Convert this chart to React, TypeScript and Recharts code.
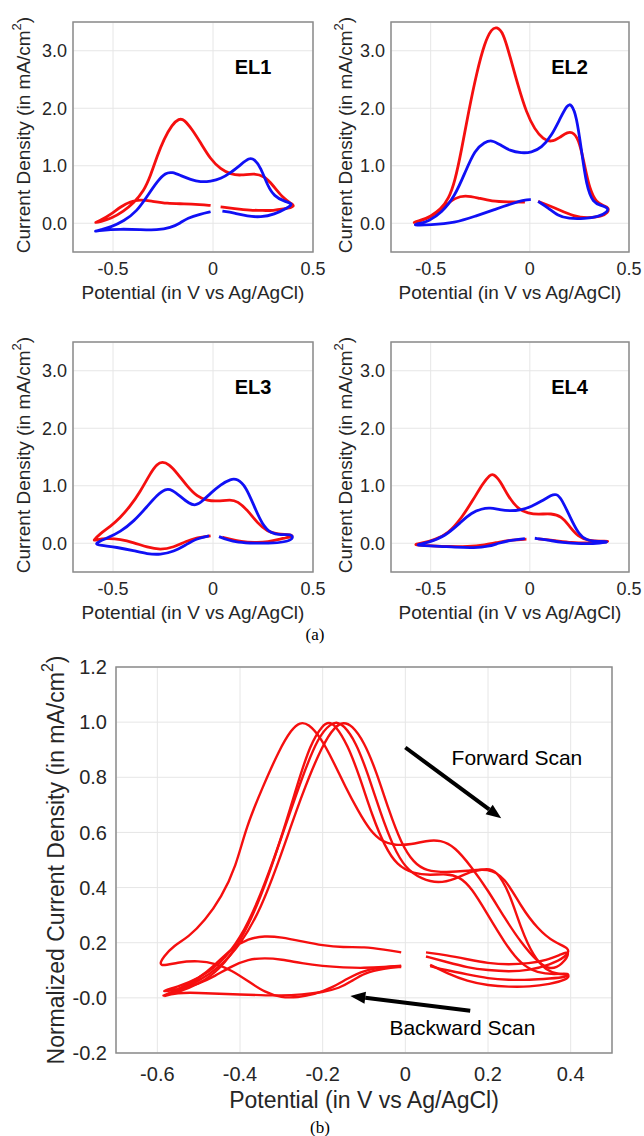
import React from 'react';
import {
  LineChart,
  Line,
  XAxis,
  YAxis,
  CartesianGrid,
  ReferenceArea,
  ReferenceDot,
  ReferenceLine,
} from 'recharts';

type Pt = { x: number; y: number };
const pts = (a: number[][]): Pt[] => a.map(([x, y]) => ({ x, y }));

// ticks
const smallXTicks = [-0.5, 0, 0.5];
const smallYTicks = [0, 1, 2, 3];
const bigXTicks = [-0.6, -0.4, -0.2, 0, 0.2, 0.4];
const bigYTicks = [-0.2, 0, 0.2, 0.4, 0.6, 0.8, 1.0, 1.2];

// every loop: lower branch from the gap back to -0.6 V, upper branch out to 0.4 V,
// then the lower branch back to the other side of the gap
const el1Red = pts([
  [-0.012, 0.31], [-0.062, 0.325], [-0.145, 0.34], [-0.229, 0.34], [-0.313, 0.39], [-0.363, 0.41],
  [-0.413, 0.38], [-0.463, 0.285], [-0.513, 0.15], [-0.564, 0.047], [-0.598, 0.0],
  [-0.56, 0.03], [-0.513, 0.076], [-0.446, 0.21], [-0.396, 0.355], [-0.346, 0.56], [-0.313, 0.82],
  [-0.279, 1.17], [-0.246, 1.46], [-0.204, 1.72], [-0.17, 1.82], [-0.145, 1.81], [-0.104, 1.63],
  [-0.062, 1.4], [-0.012, 1.11], [0.038, 0.94], [0.089, 0.85], [0.139, 0.83], [0.206, 0.87],
  [0.256, 0.82], [0.298, 0.67], [0.348, 0.44], [0.398, 0.33], [0.405, 0.3], [0.39, 0.27],
  [0.356, 0.25], [0.3, 0.22], [0.25, 0.222], [0.189, 0.225], [0.105, 0.256], [0.038, 0.285],
]);
const el1Blue = pts([
  [-0.012, 0.2], [-0.062, 0.16], [-0.129, 0.09], [-0.162, 0.006], [-0.212, -0.08], [-0.279, -0.12],
  [-0.363, -0.11], [-0.463, -0.1], [-0.564, -0.12], [-0.6, -0.15],
  [-0.56, -0.11], [-0.513, -0.07], [-0.446, 0.035], [-0.38, 0.21], [-0.329, 0.47], [-0.279, 0.73],
  [-0.237, 0.88], [-0.204, 0.89], [-0.162, 0.83], [-0.112, 0.76], [-0.062, 0.715], [-0.012, 0.73],
  [0.038, 0.77], [0.089, 0.88], [0.139, 1.02], [0.181, 1.14], [0.206, 1.12], [0.239, 0.97],
  [0.273, 0.65], [0.306, 0.47], [0.356, 0.38], [0.403, 0.34], [0.373, 0.27], [0.306, 0.15],
  [0.239, 0.105], [0.172, 0.12], [0.105, 0.18], [0.047, 0.21],
]);
const el2Red = pts([
  [-0.025, 0.37], [-0.109, 0.37], [-0.193, 0.38], [-0.26, 0.44], [-0.327, 0.49], [-0.378, 0.44],
  [-0.42, 0.32], [-0.46, 0.2], [-0.5, 0.11], [-0.55, 0.04], [-0.6, 0.0],
  [-0.55, 0.05], [-0.5, 0.12], [-0.45, 0.24], [-0.41, 0.42], [-0.378, 0.72], [-0.344, 1.28],
  [-0.31, 1.92], [-0.268, 2.62], [-0.227, 3.15], [-0.193, 3.38], [-0.168, 3.42], [-0.134, 3.32],
  [-0.101, 2.91], [-0.059, 2.39], [-0.017, 1.92], [0.025, 1.63], [0.067, 1.46], [0.109, 1.41],
  [0.151, 1.49], [0.19, 1.59], [0.223, 1.58], [0.252, 1.4], [0.277, 0.99], [0.302, 0.59],
  [0.336, 0.35], [0.378, 0.3], [0.398, 0.27], [0.394, 0.18], [0.361, 0.12], [0.294, 0.09],
  [0.227, 0.11], [0.126, 0.27], [0.042, 0.38],
]);
const el2Blue = pts([
  [0.005, 0.41], [-0.025, 0.41], [-0.092, 0.34], [-0.176, 0.24], [-0.277, 0.12], [-0.378, 0.006],
  [-0.5, -0.03], [-0.6, -0.035],
  [-0.55, 0.0], [-0.512, 0.035], [-0.445, 0.18], [-0.378, 0.47], [-0.327, 0.88], [-0.277, 1.28],
  [-0.227, 1.41], [-0.193, 1.45], [-0.151, 1.37], [-0.101, 1.26], [-0.042, 1.22], [0.008, 1.23],
  [0.059, 1.31], [0.109, 1.52], [0.151, 1.81], [0.19, 2.07], [0.21, 2.07], [0.235, 1.87],
  [0.26, 1.28], [0.285, 0.65], [0.319, 0.35], [0.361, 0.31], [0.394, 0.27], [0.394, 0.2],
  [0.344, 0.11], [0.277, 0.08], [0.193, 0.08], [0.143, 0.13], [0.092, 0.27], [0.042, 0.38],
]);
const el3Red = pts([
  [-0.012, 0.13], [-0.079, 0.1], [-0.137, 0.03], [-0.196, -0.07], [-0.263, -0.116], [-0.329, -0.07],
  [-0.396, 0.012], [-0.463, 0.07], [-0.53, 0.087], [-0.589, 0.058], [-0.6, 0.04],
  [-0.564, 0.17], [-0.514, 0.29], [-0.465, 0.44], [-0.415, 0.64], [-0.363, 0.9], [-0.313, 1.22],
  [-0.279, 1.38], [-0.254, 1.42], [-0.221, 1.38], [-0.179, 1.22], [-0.129, 0.99], [-0.079, 0.81],
  [-0.028, 0.74], [0.022, 0.73], [0.089, 0.76], [0.122, 0.73], [0.172, 0.58], [0.222, 0.35],
  [0.273, 0.2], [0.323, 0.16], [0.39, 0.145], [0.403, 0.12], [0.356, 0.09], [0.273, 0.017],
  [0.206, 0.01], [0.139, 0.03], [0.089, 0.07], [0.047, 0.105],
]);
const el3Blue = pts([
  [-0.02, 0.128], [-0.079, 0.087], [-0.137, -0.03], [-0.196, -0.145], [-0.263, -0.2], [-0.329, -0.186],
  [-0.396, -0.128], [-0.48, -0.07], [-0.564, -0.035], [-0.597, -0.01],
  [-0.53, 0.087], [-0.463, 0.2], [-0.396, 0.38], [-0.329, 0.64], [-0.279, 0.84], [-0.237, 0.95],
  [-0.204, 0.93], [-0.162, 0.81], [-0.12, 0.69], [-0.087, 0.65], [-0.054, 0.73], [-0.012, 0.87],
  [0.038, 1.02], [0.089, 1.12], [0.122, 1.12], [0.164, 0.99], [0.206, 0.64], [0.247, 0.32],
  [0.289, 0.17], [0.339, 0.145], [0.39, 0.16], [0.403, 0.09], [0.373, 0.03], [0.306, 0.0],
  [0.206, 0.0], [0.122, 0.017], [0.072, 0.058], [0.03, 0.116],
]);
const el4Red = pts([
  [-0.017, 0.07], [-0.092, 0.058], [-0.159, 0.017], [-0.227, -0.03], [-0.311, -0.058], [-0.411, -0.058],
  [-0.512, -0.04], [-0.596, -0.03],
  [-0.545, 0.0], [-0.48, 0.058], [-0.411, 0.17], [-0.344, 0.44], [-0.285, 0.76], [-0.235, 1.05],
  [-0.201, 1.19], [-0.185, 1.21], [-0.151, 1.1], [-0.109, 0.81], [-0.059, 0.59], [-0.008, 0.52],
  [0.042, 0.5], [0.109, 0.52], [0.159, 0.47], [0.201, 0.29], [0.243, 0.116], [0.294, 0.047],
  [0.361, 0.035], [0.403, 0.04], [0.378, 0.017], [0.294, 0.0], [0.21, 0.01], [0.126, 0.047],
  [0.042, 0.076],
]);
const el4Blue = pts([
  [-0.025, 0.08], [-0.092, 0.058], [-0.159, 0.0], [-0.21, -0.058], [-0.277, -0.08], [-0.378, -0.07],
  [-0.48, -0.047], [-0.596, -0.04],
  [-0.512, 0.012], [-0.428, 0.116], [-0.344, 0.38], [-0.294, 0.53], [-0.243, 0.6], [-0.201, 0.62],
  [-0.151, 0.58], [-0.101, 0.56], [-0.042, 0.58], [0.008, 0.64], [0.059, 0.73], [0.109, 0.84],
  [0.134, 0.86], [0.159, 0.78], [0.201, 0.47], [0.243, 0.17], [0.285, 0.047], [0.344, 0.03],
  [0.403, 0.03], [0.361, 0.0], [0.26, -0.01], [0.159, 0.01], [0.092, 0.058], [0.025, 0.087],
]);

// normalized forward-scan loops, panel (b)
const normEl1 = pts([
  [-0.01, 0.165], [-0.05, 0.175], [-0.1, 0.185], [-0.15, 0.183], [-0.2, 0.19], [-0.25, 0.205],
  [-0.3, 0.22], [-0.34, 0.225], [-0.38, 0.215], [-0.42, 0.18], [-0.46, 0.12], [-0.5, 0.07],
  [-0.55, 0.03], [-0.6, 0.0],
  [-0.56, 0.02], [-0.5, 0.06], [-0.45, 0.11], [-0.4, 0.19], [-0.35, 0.32], [-0.3, 0.52],
  [-0.25, 0.74], [-0.2, 0.92], [-0.17, 0.985], [-0.15, 1.0], [-0.13, 0.99], [-0.1, 0.93],
  [-0.07, 0.82], [-0.04, 0.68], [-0.01, 0.56], [0.02, 0.49], [0.05, 0.46], [0.1, 0.455],
  [0.15, 0.46], [0.2, 0.47], [0.24, 0.44], [0.28, 0.33], [0.32, 0.25], [0.36, 0.2], [0.4, 0.18],
  [0.39, 0.15], [0.35, 0.12], [0.3, 0.1], [0.25, 0.095], [0.2, 0.1], [0.15, 0.11], [0.1, 0.13],
  [0.05, 0.15],
]);
const normEl2 = pts([
  [-0.01, 0.117], [-0.05, 0.112], [-0.1, 0.108], [-0.15, 0.11], [-0.2, 0.115], [-0.25, 0.125],
  [-0.3, 0.14], [-0.34, 0.145], [-0.38, 0.14], [-0.42, 0.115], [-0.46, 0.08], [-0.5, 0.05],
  [-0.55, 0.03], [-0.6, 0.02],
  [-0.55, 0.04], [-0.5, 0.07], [-0.45, 0.12], [-0.4, 0.21], [-0.35, 0.37], [-0.3, 0.58],
  [-0.25, 0.8], [-0.21, 0.95], [-0.18, 0.995], [-0.165, 1.0], [-0.15, 0.99], [-0.12, 0.93],
  [-0.09, 0.81], [-0.06, 0.67], [-0.03, 0.55], [0.0, 0.47], [0.04, 0.43], [0.08, 0.415],
  [0.12, 0.43], [0.16, 0.46], [0.2, 0.47], [0.22, 0.46], [0.25, 0.39], [0.28, 0.25], [0.31, 0.15],
  [0.34, 0.1], [0.37, 0.085], [0.4, 0.085],
  [0.39, 0.065], [0.35, 0.05], [0.3, 0.04], [0.25, 0.04], [0.2, 0.045], [0.15, 0.06], [0.1, 0.09],
  [0.06, 0.12],
]);
const normEl3 = pts([
  [-0.01, 0.115], [-0.05, 0.112], [-0.1, 0.1], [-0.14, 0.07], [-0.18, 0.035], [-0.22, 0.012],
  [-0.26, 0.002], [-0.3, 0.0], [-0.34, 0.02], [-0.38, 0.06], [-0.42, 0.1], [-0.46, 0.125],
  [-0.5, 0.135], [-0.55, 0.13], [-0.6, 0.11],
  [-0.585, 0.15], [-0.56, 0.19], [-0.525, 0.22], [-0.485, 0.28], [-0.445, 0.365], [-0.41, 0.475],
  [-0.385, 0.62], [-0.345, 0.765], [-0.305, 0.9], [-0.275, 0.975], [-0.255, 1.0], [-0.235, 0.995],
  [-0.205, 0.945], [-0.175, 0.86], [-0.145, 0.765], [-0.115, 0.68], [-0.085, 0.605], [-0.055, 0.565],
  [-0.025, 0.553], [0.015, 0.556], [0.05, 0.57], [0.085, 0.573], [0.12, 0.548], [0.16, 0.475],
  [0.2, 0.39], [0.24, 0.29], [0.28, 0.2], [0.32, 0.13], [0.35, 0.1], [0.38, 0.12], [0.4, 0.17],
  [0.38, 0.16], [0.34, 0.135], [0.3, 0.125], [0.25, 0.12], [0.2, 0.125], [0.15, 0.14], [0.1, 0.155],
  [0.05, 0.165],
]);
const normEl4 = pts([
  [-0.01, 0.112], [-0.05, 0.108], [-0.1, 0.09], [-0.13, 0.06], [-0.16, 0.035], [-0.2, 0.02],
  [-0.25, 0.012], [-0.3, 0.008], [-0.35, 0.01], [-0.4, 0.012], [-0.45, 0.015], [-0.5, 0.018],
  [-0.55, 0.02], [-0.6, 0.0],
  [-0.55, 0.02], [-0.5, 0.05], [-0.45, 0.1], [-0.4, 0.2], [-0.35, 0.36], [-0.3, 0.58],
  [-0.26, 0.78], [-0.23, 0.92], [-0.2, 0.99], [-0.185, 1.0], [-0.17, 0.99], [-0.14, 0.92],
  [-0.11, 0.8], [-0.08, 0.66], [-0.05, 0.55], [-0.02, 0.48], [0.02, 0.45], [0.06, 0.445],
  [0.1, 0.45], [0.13, 0.44], [0.16, 0.4], [0.2, 0.3], [0.24, 0.2], [0.28, 0.12], [0.32, 0.09],
  [0.36, 0.085], [0.4, 0.09],
  [0.39, 0.075], [0.35, 0.07], [0.3, 0.065], [0.25, 0.065], [0.2, 0.07], [0.15, 0.085], [0.1, 0.1],
  [0.06, 0.115],
]);

const FONT = "'Liberation Sans', Arial, sans-serif";
const TXT = '#262626';
const RED = '#f50f0f';
const BLUE = '#1010f5';
const GRID = '#e6e6e6';
const BOX = '#8c8c8c';

const xTitle = 'Potential (in V vs Ag/AgCl)';

function SmallPanel({ left, top, yAxisW, right, tag, red, blue }: any) {
  return (
    <div style={{ position: 'absolute', left, top }}>
      <LineChart width={330} height={305} margin={{ top: 22, right, left: 0, bottom: 0 }}>
        <CartesianGrid stroke={GRID} />
        <XAxis
          type="number"
          dataKey="x"
          domain={[-0.7, 0.5]}
          ticks={smallXTicks}
          allowDataOverflow
          axisLine={false}
          tickLine={false}
          tickSize={0}
          tickMargin={10}
          height={53}
          tick={{ fontSize: 18, fill: TXT, fontFamily: FONT }}
          label={(p: any) => (
            <text
              x={p.viewBox.x + p.viewBox.width / 2}
              y={p.viewBox.y + 40}
              textAnchor="middle"
              dominantBaseline="central"
              fontSize={19}
              fontFamily={FONT}
              fill={TXT}
            >
              {xTitle}
            </text>
          )}
        />
        <YAxis
          type="number"
          domain={[-0.5, 3.5]}
          ticks={smallYTicks}
          allowDataOverflow
          axisLine={false}
          tickLine={false}
          tickSize={0}
          tickMargin={6}
          width={yAxisW}
          tick={{ fontSize: 18, fill: TXT, fontFamily: FONT }}
          tickFormatter={(v: number) => v.toFixed(1)}
          label={(p: any) => {
            const cx = 23;
            const cy = p.viewBox.y + p.viewBox.height / 2 - 2;
            return (
              <text
                transform={`translate(${cx},${cy}) rotate(-90)`}
                textAnchor="middle"
                dominantBaseline="central"
                fontSize={19}
                fontFamily={FONT}
                fill={TXT}
              >
                Current Density (in mA/cm
                <tspan dy={-7} fontSize={13}>2</tspan>
                <tspan dy={7}>)</tspan>
              </text>
            );
          }}
        />
        <ReferenceArea x1={-0.7} x2={0.5} y1={-0.5} y2={3.5} fill="none" stroke={BOX} strokeWidth={1.5} />
        <Line data={red} dataKey="y" type="basis" stroke={RED} strokeWidth={2.8} dot={false} isAnimationActive={false} />
        <Line data={blue} dataKey="y" type="basis" stroke={BLUE} strokeWidth={2.8} dot={false} isAnimationActive={false} />
        <ReferenceDot
          x={0.2}
          y={2.72}
          r={1}
          fill="none"
          stroke="none"
          label={{ value: tag, position: 'center', fontSize: 20, fontWeight: 'bold', fill: '#000', fontFamily: FONT }}
        />
      </LineChart>
    </div>
  );
}

const Arrow = (p: any) => {
  const { x1, y1, x2, y2 } = p;
  const a = Math.atan2(y2 - y1, x2 - x1);
  const L = 15;
  const w = 6;
  const bx = x2 - L * Math.cos(a);
  const by = y2 - L * Math.sin(a);
  const nx = -Math.sin(a) * w;
  const ny = Math.cos(a) * w;
  return (
    <g>
      <line x1={x1} y1={y1} x2={bx} y2={by} stroke="#000" strokeWidth={4} />
      <polygon points={`${x2},${y2} ${bx + nx},${by + ny} ${bx - nx},${by - ny}`} fill="#000" />
    </g>
  );
};

function BigPanel() {
  const bigLines = [normEl1, normEl2, normEl3, normEl4];
  return (
    <div style={{ position: 'absolute', left: 0, top: 640 }}>
      <LineChart width={644} height={490} margin={{ top: 27, right: 32, left: 0, bottom: 0 }}>
        <CartesianGrid stroke={GRID} />
        <XAxis
          type="number"
          dataKey="x"
          domain={[-0.7, 0.5]}
          ticks={bigXTicks}
          allowDataOverflow
          axisLine={false}
          tickLine={false}
          tickSize={0}
          tickMargin={14}
          height={77}
          tick={{ fontSize: 20, fill: TXT, fontFamily: FONT }}
          label={(p: any) => (
            <text
              x={p.viewBox.x + p.viewBox.width / 2}
              y={p.viewBox.y + 47}
              textAnchor="middle"
              dominantBaseline="central"
              fontSize={23}
              fontFamily={FONT}
              fill={TXT}
            >
              {xTitle}
            </text>
          )}
        />
        <YAxis
          type="number"
          domain={[-0.2, 1.2]}
          ticks={bigYTicks}
          allowDataOverflow
          axisLine={false}
          tickLine={false}
          tickSize={0}
          tickMargin={9}
          width={116}
          tick={{ fontSize: 20, fill: TXT, fontFamily: FONT }}
          tickFormatter={(v: number) => (v === 0 ? '-0.0' : v.toFixed(1))}
          label={(p: any) => {
            const cx = 56;
            const cy = p.viewBox.y + p.viewBox.height / 2;
            return (
              <text
                transform={`translate(${cx},${cy}) rotate(-90)`}
                textAnchor="middle"
                dominantBaseline="central"
                fontSize={23}
                fontFamily={FONT}
                fill={TXT}
              >
                Normalized Current Density (in mA/cm
                <tspan dy={-9} fontSize={16}>2</tspan>
                <tspan dy={9}>)</tspan>
              </text>
            );
          }}
        />
        <ReferenceArea x1={-0.7} x2={0.5} y1={-0.2} y2={1.2} fill="none" stroke={BOX} strokeWidth={1.5} />
        {bigLines.map((d, i) => (
          <Line key={i} data={d} dataKey="y" type="basis" stroke={RED} strokeWidth={2.4} dot={false} isAnimationActive={false} />
        ))}
        <ReferenceLine segment={[{ x: 0.0, y: 0.908 }, { x: 0.232, y: 0.651 }]} shape={Arrow} />
        <ReferenceLine segment={[{ x: 0.157, y: -0.047 }, { x: -0.133, y: 0.007 }]} shape={Arrow} />
        <ReferenceDot
          x={0.27}
          y={0.873}
          r={1}
          fill="none"
          stroke="none"
          label={{ value: 'Forward Scan', position: 'center', fontSize: 21, fill: '#000', fontFamily: FONT }}
        />
        <ReferenceDot
          x={0.138}
          y={-0.109}
          r={1}
          fill="none"
          stroke="none"
          label={{ value: 'Backward Scan', position: 'center', fontSize: 21, fill: '#000', fontFamily: FONT }}
        />
      </LineChart>
    </div>
  );
}

const caption = (txt: string, left: number, top: number) => (
  <div
    style={{
      position: 'absolute',
      left: left - 20,
      top: top - 11,
      width: 40,
      textAlign: 'center',
      fontFamily: "'Liberation Serif', 'Times New Roman', serif",
      fontSize: 17,
      lineHeight: '22px',
      color: '#000',
    }}
  >
    {txt}
  </div>
);

export default function App() {
  return (
    <div style={{ position: 'absolute', left: 0, top: 0, width: 644, height: 1136, background: '#fff' }}>
      <SmallPanel left={0} top={0} yAxisW={73} right={17} tag="EL1" red={el1Red} blue={el1Blue} />
      <SmallPanel left={322} top={0} yAxisW={69} right={23} tag="EL2" red={el2Red} blue={el2Blue} />
      <SmallPanel left={0} top={320} yAxisW={73} right={17} tag="EL3" red={el3Red} blue={el3Blue} />
      <SmallPanel left={322} top={320} yAxisW={69} right={23} tag="EL4" red={el4Red} blue={el4Blue} />
      {caption('(a)', 315, 635)}
      <BigPanel />
      {caption('(b)', 320, 1128)}
    </div>
  );
}
